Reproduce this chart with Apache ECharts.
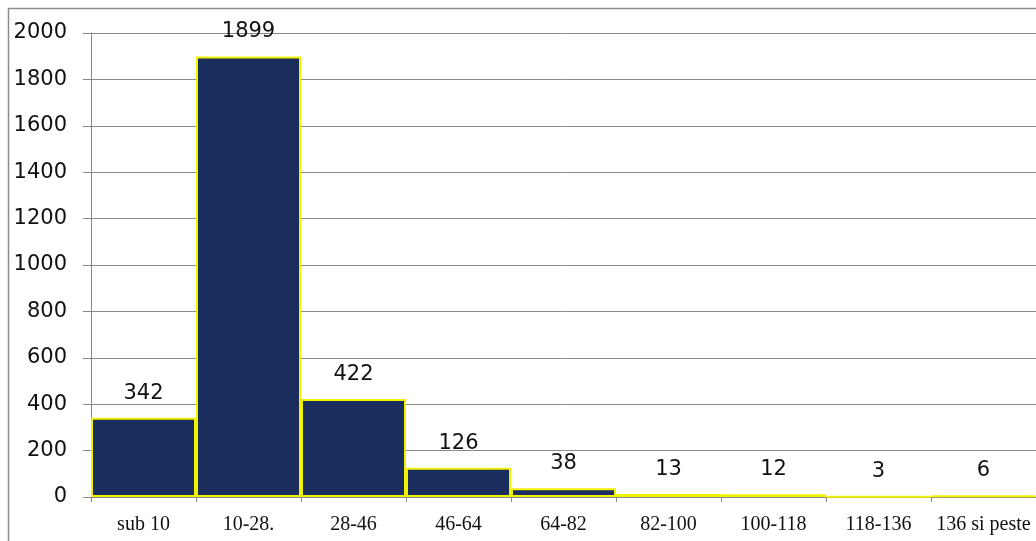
<!DOCTYPE html>
<html>
<head>
<meta charset="utf-8">
<script src="https://cdn.jsdelivr.net/npm/echarts@6/dist/echarts.min.js"></script>
<style>
	html, body { margin: 0; padding: 0; background: #fff; }
	#chart { width: 1036px; height: 541px; }
</style>
</head>
<body>
<div id="chart"></div>
<script>
// intervale (categorii) si numar de cazuri
var categorii = ['sub 10', '10-28.', '28-46', '46-64', '64-82', '82-100', '100-118', '118-136', '136 si peste'];
var valori = [342, 1899, 422, 126, 38, 13, 12, 3, 6];

var myChart = echarts.init(document.getElementById('chart'));

var option = {
	animation: false,
	backgroundColor: '#fff',
	// rama graficului
	graphic: [{
		type: 'rect',
		shape: { x: 8.5, y: 8.5, width: 1100, height: 600 },
		style: { fill: 'none', stroke: '#8c8c8c', lineWidth: 1.5 },
		silent: true
	}],
	grid: {
		left: 91,
		right: 0,
		top: 33,
		bottom: 44
	},
	xAxis: {
		type: 'category',
		data: categorii,
		axisLine: { show: true, lineStyle: { color: '#888', width: 1 } },
		axisTick: { show: true, alignWithLabel: false, length: 5, lineStyle: { color: '#888' } },
		axisLabel: {
			color: '#111',
			fontFamily: 'Liberation Serif',
			fontSize: 20,
			margin: 18,
			interval: 0
		},
		splitLine: { show: false }
	},
	yAxis: {
		type: 'value',
		min: 0,
		max: 2000,
		interval: 200,
		axisLine: { show: true, lineStyle: { color: '#888', width: 1 } },
		axisTick: { show: true, inside: false, length: 8, lineStyle: { color: '#888' } },
		axisLabel: {
			color: '#111',
			fontFamily: 'DejaVu Sans',
			fontSize: 21,
			margin: 24,
			formatter: function(v) {
				return String(v);
			}
		},
		splitLine: { show: true, lineStyle: { color: '#8a8a8a', width: 1 } }
	},
	series: [{
		type: 'bar',
		data: valori,
		barCategoryGap: '0%',
		itemStyle: {
			color: '#1b2d5c',
			borderColor: '#f2f200',
			borderWidth: 2
		},
		label: {
			show: true,
			position: 'top',
			distance: 14,
			color: '#111',
			fontFamily: 'DejaVu Sans',
			fontSize: 21
		}
	}]
};

myChart.setOption(option);
</script>
</body>
</html>
